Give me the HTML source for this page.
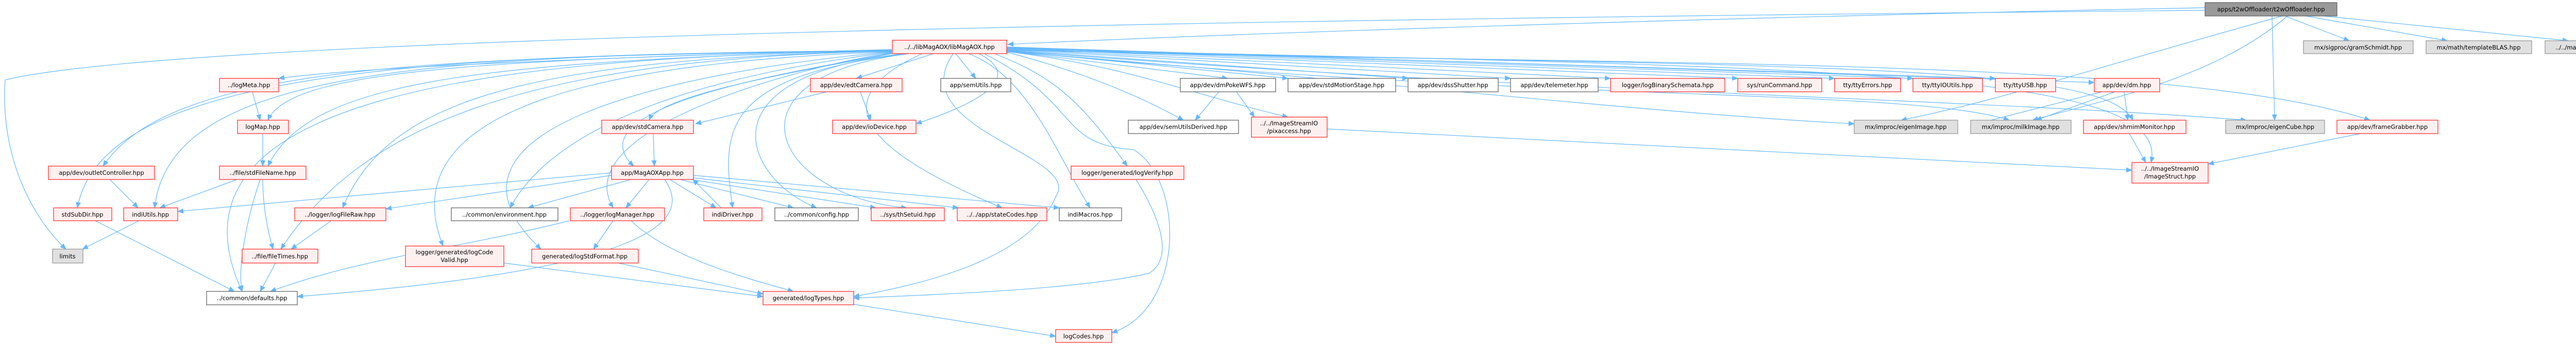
<!DOCTYPE html>
<html><head><meta charset="utf-8"><style>
html,body{margin:0;padding:0;background:#fff;}
svg{display:block;}
text{font-family:"DejaVu Sans","Liberation Sans",sans-serif;font-size:11.5px;fill:#000;text-anchor:middle;}
.r{fill:#fff0f0;stroke:#f33;stroke-width:1.3;}
.w{fill:#fff;stroke:#666;stroke-width:1.3;}
.g{fill:#e0e0e0;stroke:#999;stroke-width:1.3;}
.t{fill:#999;stroke:#666;stroke-width:1.3;}
path{fill:none;stroke:#63b8ff;stroke-width:1.2;}
</style></head><body>
<svg width="5135" height="667" viewBox="0 0 5135 667" xmlns="http://www.w3.org/2000/svg">
<defs><marker id="a" markerWidth="12" markerHeight="10" refX="11" refY="5" orient="auto" markerUnits="userSpaceOnUse"><polygon points="0,0 12,5 0,10" fill="#63b8ff"/></marker></defs>
<g marker-end="url(#a)">
<!-- t2w edges -->
<path d="M4280,15 C3500,30 2500,60 1956,86"/>
<path d="M4280,20 C3000,32 400,60 10,155 C0,300 60,420 128,483"/>
<path d="M4430,31 C4000,150 3900,190 3690,233"/>
<path d="M4440,31 C4300,150 4100,190 3945,233"/>
<path d="M4410,31 L4415,233"/>
<path d="M4435,31 L4560,79"/>
<path d="M4475,31 L4750,79"/>
<path d="M4510,31 L4985,79"/>
<!-- lib left -->
<path d="M1731,96 C1200,110 700,130 541,152"/>
<path d="M1731,97 C900,115 560,140 520,233"/>
<path d="M1731,97 C900,120 600,160 520,322"/>
<path d="M1731,98 C800,110 330,130 200,322"/>
<path d="M1731,98 C800,105 200,140 150,403"/>
<path d="M1731,98 C800,105 330,140 300,403"/>
<path d="M1731,99 C900,110 300,200 470,565"/>
<path d="M1731,99 C1000,115 700,250 545,483"/>
<path d="M1731,99 C1000,115 750,200 665,403"/>
<path d="M1731,100 C1200,120 750,200 860,477"/>
<path d="M1731,100 C1300,140 800,250 1050,483"/>
<path d="M1731,101 C1500,130 1100,200 990,403"/>
<path d="M1731,102 C1550,130 1100,250 1190,403"/>
<path d="M1731,103 C1600,130 1100,200 1230,322"/>
<path d="M1731,104 C1600,130 1280,180 1260,233"/>
<!-- lib bottom -->
<path d="M1812,104 L1662,152"/>
<path d="M1855,104 L1894,152"/>
<path d="M1900,104 C1990,150 1900,200 1778,240"/>
<path d="M1760,104 C1400,150 1400,250 1422,403"/>
<path d="M1755,104 C1350,150 1450,350 1585,403"/>
<path d="M1765,104 C1390,150 1500,380 1760,403"/>
<path d="M1790,104 C1580,200 1700,300 1945,403"/>
<path d="M1880,104 C2000,150 2050,300 2116,403"/>
<path d="M1850,104 C1750,250 2100,300 2050,380 C2000,500 1800,550 1657,575"/>
<path d="M1910,104 C2100,200 2050,280 2200,290 C2300,350 2300,600 2158,645"/>
<path d="M1930,104 C2050,150 2100,200 2188,322"/>
<path d="M1954,101 C2100,140 2200,180 2297,233"/>
<path d="M1954,100 C2200,130 2300,180 2500,227"/>
<path d="M1954,99 L2383,152"/>
<path d="M1954,98 L2500,152"/>
<path d="M1954,97 L2733,152"/>
<path d="M1954,96 L2932,152"/>
<path d="M1954,95 L3126,152"/>
<path d="M1954,94 L3373,152"/>
<path d="M1954,93 L3561,152"/>
<path d="M1954,92 L3713,152"/>
<path d="M1954,92 L3873,152"/>
<path d="M1954,91 L4065,160"/>
<path d="M1954,100 C2600,150 3200,220 3599,240"/>
<path d="M1954,99 C3000,200 3700,170 3900,233"/>
<path d="M1954,97 C3500,130 4080,120 4140,233"/>
<path d="M1954,98 C3000,180 3800,190 4360,233"/>
<path d="M1954,96 C3000,130 4200,100 4600,233"/>
<path d="M1954,95 C3500,130 4220,130 4175,315"/>
<!-- other -->
<path d="M2576,250 C3300,290 3900,320 4138,330"/>
<path d="M490,178 L505,233"/>
<path d="M510,259 L510,322"/>
<path d="M460,348 L310,403"/>
<path d="M505,348 C480,420 460,520 470,565"/>
<path d="M510,348 C510,400 520,450 530,483"/>
<path d="M213,348 L268,403"/>
<path d="M185,428 L455,565"/>
<path d="M270,428 L160,483"/>
<path d="M643,428 L565,483"/>
<path d="M535,510 L505,565"/>
<path d="M1105,428 C900,480 700,500 525,565"/>
<path d="M1190,428 L1152,483"/>
<path d="M1225,428 C1300,500 1450,540 1540,565"/>
<path d="M978,510 L1481,575"/>
<path d="M1200,510 L1481,570"/>
<path d="M1187,335 L345,410"/>
<path d="M1187,340 L749,405"/>
<path d="M1225,348 L1025,403"/>
<path d="M1260,348 L1215,403"/>
<path d="M1300,348 L1390,403"/>
<path d="M1320,348 L1540,403"/>
<path d="M1340,348 L1700,403"/>
<path d="M1346,345 L1860,403"/>
<path d="M1346,340 L2056,403"/>
<path d="M1290,348 C1340,420 1300,520 577,575"/>
<path d="M1268,259 L1270,322"/>
<path d="M1605,178 L1350,240"/>
<path d="M1670,178 L1690,233"/>
<path d="M1400,403 L1345,348"/>
<path d="M2366,178 L2320,233"/>
<path d="M2400,178 L2435,227"/>
<path d="M2205,348 C2250,420 2280,500 2230,530 C2100,560 1850,570 1657,578"/>
<path d="M1657,590 L2049,652"/>
<path d="M4080,178 L3825,243"/>
<path d="M4105,178 L3952,233"/>
<path d="M4123,178 L4130,233"/>
<path d="M4133,259 L4165,315"/>
<path d="M4582,259 L4286,318"/>
</g>
<!-- nodes -->
<rect class="t" x="4280" y="5" width="256" height="26"/><text x="4408" y="22">apps/t2wOffloader/t2wOffloader.hpp</text>
<rect class="r" x="1732" y="78" width="222" height="26"/><text x="1843" y="95">../../libMagAOX/libMagAOX.hpp</text>
<rect class="g" x="4471" y="79" width="213" height="25"/><text x="4577" y="96">mx/sigproc/gramSchmidt.hpp</text>
<rect class="g" x="4709" y="79" width="205" height="25"/><text x="4811" y="96">mx/math/templateBLAS.hpp</text>
<rect class="g" x="4940" y="79" width="189" height="25"/><text x="5034" y="96">../../magaox_git_version.h</text>

<rect class="r" x="426" y="152" width="115" height="26"/><text x="483" y="169">../logMeta.hpp</text>
<rect class="r" x="1573" y="152" width="178" height="26"/><text x="1662" y="169">app/dev/edtCamera.hpp</text>
<rect class="w" x="1826" y="152" width="136" height="26"/><text x="1894" y="169">app/semUtils.hpp</text>
<rect class="w" x="2291" y="152" width="185" height="26"/><text x="2383" y="169">app/dev/dmPokeWFS.hpp</text>
<rect class="w" x="2500" y="152" width="209" height="26"/><text x="2604" y="169">app/dev/stdMotionStage.hpp</text>
<rect class="w" x="2733" y="152" width="175" height="26"/><text x="2820" y="169">app/dev/dssShutter.hpp</text>
<rect class="w" x="2932" y="152" width="170" height="26"/><text x="3017" y="169">app/dev/telemeter.hpp</text>
<rect class="r" x="3126" y="152" width="222" height="26"/><text x="3237" y="169">logger/logBinarySchemata.hpp</text>
<rect class="r" x="3373" y="152" width="163" height="26"/><text x="3454" y="169">sys/runCommand.hpp</text>
<rect class="r" x="3561" y="152" width="128" height="26"/><text x="3625" y="169">tty/ttyErrors.hpp</text>
<rect class="r" x="3713" y="152" width="135" height="26"/><text x="3780" y="169">tty/ttyIOUtils.hpp</text>
<rect class="r" x="3873" y="152" width="117" height="26"/><text x="3931" y="169">tty/ttyUSB.hpp</text>
<rect class="r" x="4065" y="152" width="127" height="26"/><text x="4128" y="169">app/dev/dm.hpp</text>

<rect class="r" x="461" y="233" width="99" height="26"/><text x="510" y="250">logMap.hpp</text>
<rect class="r" x="1168" y="233" width="178" height="26"/><text x="1257" y="250">app/dev/stdCamera.hpp</text>
<rect class="r" x="1616" y="233" width="162" height="26"/><text x="1697" y="250">app/dev/ioDevice.hpp</text>
<rect class="w" x="2190" y="233" width="214" height="26"/><text x="2297" y="250">app/dev/semUtilsDerived.hpp</text>
<rect class="r" x="2429" y="227" width="147" height="39"/><text x="2502" y="243">../../ImageStreamIO</text><text x="2502" y="258">/pixaccess.hpp</text>
<rect class="g" x="3599" y="233" width="201" height="26"/><text x="3699" y="250">mx/improc/eigenImage.hpp</text>
<rect class="g" x="3825" y="233" width="195" height="26"/><text x="3922" y="250">mx/improc/milkImage.hpp</text>
<rect class="r" x="4044" y="233" width="199" height="26"/><text x="4143" y="250">app/dev/shmimMonitor.hpp</text>
<rect class="g" x="4320" y="233" width="192" height="26"/><text x="4416" y="250">mx/improc/eigenCube.hpp</text>
<rect class="r" x="4536" y="233" width="196" height="26"/><text x="4634" y="250">app/dev/frameGrabber.hpp</text>

<rect class="r" x="94" y="322" width="206" height="26"/><text x="197" y="339">app/dev/outletController.hpp</text>
<rect class="r" x="426" y="322" width="168" height="26"/><text x="510" y="339">../file/stdFileName.hpp</text>
<rect class="r" x="1187" y="322" width="159" height="26"/><text x="1266" y="339">app/MagAOXApp.hpp</text>
<rect class="r" x="2079" y="322" width="219" height="26"/><text x="2188" y="339">logger/generated/logVerify.hpp</text>
<rect class="r" x="4138" y="315" width="148" height="40"/><text x="4212" y="331">../../ImageStreamIO</text><text x="4212" y="346">/ImageStruct.hpp</text>

<rect class="r" x="104" y="403" width="113" height="25"/><text x="160" y="420">stdSubDir.hpp</text>
<rect class="r" x="240" y="403" width="105" height="25"/><text x="292" y="420">indiUtils.hpp</text>
<rect class="r" x="572" y="403" width="177" height="25"/><text x="660" y="420">../logger/logFileRaw.hpp</text>
<rect class="w" x="876" y="403" width="207" height="25"/><text x="979" y="420">../common/environment.hpp</text>
<rect class="r" x="1107" y="403" width="183" height="25"/><text x="1198" y="420">../logger/logManager.hpp</text>
<rect class="r" x="1366" y="403" width="113" height="25"/><text x="1422" y="420">indiDriver.hpp</text>
<rect class="w" x="1504" y="403" width="162" height="25"/><text x="1585" y="420">../common/config.hpp</text>
<rect class="r" x="1691" y="403" width="142" height="25"/><text x="1762" y="420">../sys/thSetuid.hpp</text>
<rect class="r" x="1858" y="403" width="174" height="25"/><text x="1945" y="420">../../app/stateCodes.hpp</text>
<rect class="w" x="2056" y="403" width="121" height="25"/><text x="2116" y="420">indiMacros.hpp</text>

<rect class="g" x="102" y="483" width="59" height="27"/><text x="131" y="501">limits</text>
<rect class="r" x="470" y="483" width="147" height="27"/><text x="543" y="501">../file/fileTimes.hpp</text>
<rect class="r" x="787" y="477" width="191" height="40"/><text x="882" y="493">logger/generated/logCode</text><text x="882" y="508">Valid.hpp</text>
<rect class="r" x="1032" y="483" width="207" height="27"/><text x="1135" y="501">generated/logStdFormat.hpp</text>

<rect class="w" x="401" y="565" width="176" height="26"/><text x="489" y="582">../common/defaults.hpp</text>
<rect class="r" x="1481" y="565" width="176" height="26"/><text x="1569" y="582">generated/logTypes.hpp</text>
<rect class="r" x="2049" y="639" width="109" height="25"/><text x="2103" y="656">logCodes.hpp</text>
</svg>
</body></html>
